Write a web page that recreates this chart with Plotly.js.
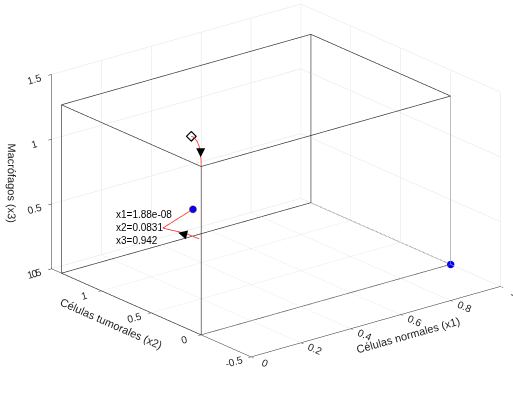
<!DOCTYPE html>
<html>
<head>
<meta charset="utf-8">
<script src="https://cdn.plot.ly/plotly-3.0.1.min.js"></script>
<style>
html,body{margin:0;padding:0;background:#fff;}
#chart{width:513px;height:408px;}
</style>
</head>
<body>
<div id="chart"></div>
<script>
// ---- data ----
// invariant box (black edges)
var boxX = [0, 1];
var boxY = [0, 1.4];
var boxZ = [0, 1.3];

// trajectory 1 (starts at the diamond)
var traj1X = [0, 0, 0, 0, 0, 0, 0];
var traj1Y = [0.10, 0.07, 0.04, 0.02, 0.01, 0.0, 0.0];
var traj1Z = [1.50, 1.50, 1.48, 1.45, 1.40, 1.35, 1.30];

// trajectory 2 (ends at the equilibrium with data tip)
var traj2X = [0, 0, 0, 0, 0];
var traj2Y = [0.02, 0.17, 0.30, 0.384, 0.0831];
var traj2Z = [0.735, 0.729, 0.707, 0.694, 0.942];

// equilibrium points (blue)
var eqX = [1, 0];
var eqY = [0, 0.0831];
var eqZ = [0, 0.942];

// arrow positions on trajectories
var arrowX = [0, 0];
var arrowY = [0.005, 0.23];
var arrowZ = [1.37, 0.71];

// data tip
var tipLabels = ['x1=1.88e-08', 'x2=0.0831', 'x3=0.942'];

// ticks
var xTicks = [0, 0.2, 0.4, 0.6, 0.8, 1];
var xTickText = ['0', '0.2', '0.4', '0.6', '0.8', '1'];
var yTicks = [-0.5, 0, 0.5, 1, 1.5];
var yTickText = ['-0.5', '0', '0.5', '1', '1.5'];
var zTicks = [0, 0.5, 1, 1.5];
var zTickText = ['0', '0.5', '1', '1.5'];

// ---- build box edges ----
var bx = [], by = [], bz = [];
function seg(p, q) {
  bx.push(p[0], q[0], null); by.push(p[1], q[1], null); bz.push(p[2], q[2], null);
}
var corners = [];
for (var i = 0; i < 2; i++) for (var j = 0; j < 2; j++) for (var k = 0; k < 2; k++)
  corners.push([boxX[i], boxY[j], boxZ[k], i, j, k]);
for (var a = 0; a < corners.length; a++) for (var b = a + 1; b < corners.length; b++) {
  var d = Math.abs(corners[a][3]-corners[b][3]) + Math.abs(corners[a][4]-corners[b][4]) + Math.abs(corners[a][5]-corners[b][5]);
  if (d === 1) seg(corners[a], corners[b]);
}

var traces = [
  {type:'scatter3d', mode:'lines', x:bx, y:by, z:bz, connectgaps:false, line:{color:'#262626', width:1.3}, hoverinfo:'skip', showlegend:false},
  {type:'scatter3d', mode:'lines', x:traj1X, y:traj1Y, z:traj1Z, line:{color:'#ff2020', width:1.5}, hoverinfo:'skip', showlegend:false},
  {type:'scatter3d', mode:'lines', x:traj2X, y:traj2Y, z:traj2Z, line:{color:'#ff2020', width:1.5}, hoverinfo:'skip', showlegend:false},
  {type:'scatter3d', mode:'markers', x:[traj1X[0]], y:[traj1Y[0]], z:[traj1Z[0]],
    marker:{symbol:'diamond-open', size:3.5, color:'#000000', line:{color:'#000000', width:2}}, hoverinfo:'skip', showlegend:false},
  {type:'scatter3d', mode:'markers', x:[eqX[0]], y:[eqY[0]], z:[eqZ[0]],
    marker:{symbol:'circle', size:4, color:'#0000ff', line:{color:'#0000cc', width:0.5}}, hoverinfo:'skip', showlegend:false},
  {type:'scatter3d', mode:'markers', x:[eqX[1]], y:[eqY[1]], z:[eqZ[1]],
    marker:{symbol:'circle', size:4.3, color:'#0000ff', line:{color:'#ff8c1a', width:1.5}}, hoverinfo:'skip', showlegend:false}
];

var annotations = [
  {x:eqX[1], y:eqY[1], z:eqZ[1], text:tipLabels.join('<br>'), showarrow:false,
   xanchor:'right', yanchor:'top', align:'left', xshift:-19, yshift:2,
   font:{family:'Liberation Sans, Arial, sans-serif', size:10, color:'#000000'}},
  {x:arrowX[0], y:arrowY[0], z:arrowZ[0], text:'', showarrow:true, ax:0, ay:-8,
   arrowhead:2, arrowsize:1.8, arrowwidth:1, arrowcolor:'#000000'},
  {x:arrowX[1], y:arrowY[1], z:arrowZ[1], text:'', showarrow:true, ax:8, ay:2,
   arrowhead:2, arrowsize:1.8, arrowwidth:1, arrowcolor:'#000000'}
];

function ax(extra) {
  var o = {
    showgrid:true, gridcolor:'#e3e3e3', gridwidth:1,
    showline:true, linecolor:'#262626', linewidth:1,
    ticks:'outside', ticklen:4, tickcolor:'#262626',
    zeroline:false, showbackground:false, showspikes:false,
    tickfont:{family:'Liberation Sans, Arial, sans-serif', size:11, color:'#262626'},
    tickmode:'array'
  };
  for (var k in extra) o[k] = extra[k];
  return o;
}

var r = 2.0;
var shift = {x:-0.100, y:0.028, z:-0.108};
var layout = {
  width:513, height:408,
  margin:{l:0, r:0, t:0, b:0},
  paper_bgcolor:'#ffffff',
  hovermode:false,
  showlegend:false,
  font:{family:'Liberation Sans, Arial, sans-serif', size:10, color:'#262626'},
  scene:{
    domain:{x:[0, 1], y:[0, 1]},
    bgcolor:'#ffffff',
    aspectmode:'manual',
    aspectratio:{x:1.566, y:1.566, z:1.018},
    camera:{
      eye:{x:-0.584*r + shift.x, y:-0.730*r + shift.y, z:0.353*r + shift.z},
      center:shift,
      up:{x:0, y:0, z:1},
      projection:{type:'orthographic'}
    },
    xaxis:ax({range:[0,1], tickvals:xTicks, ticktext:xTickText,
      title:{text:'Células normales (x1)', font:{size:11, color:'#262626'}}}),
    yaxis:ax({range:[-0.5,1.5], tickvals:yTicks, ticktext:yTickText,
      title:{text:'Células tumorales (x2)', font:{size:11, color:'#262626'}}}),
    zaxis:ax({range:[0,1.5], tickvals:zTicks, ticktext:zTickText,
      title:{text:'Macrófagos (x3)', font:{size:11, color:'#262626'}}}),
    annotations:annotations
  }
};

Plotly.newPlot('chart', traces, layout, {displayModeBar:false});
</script>
</body>
</html>
